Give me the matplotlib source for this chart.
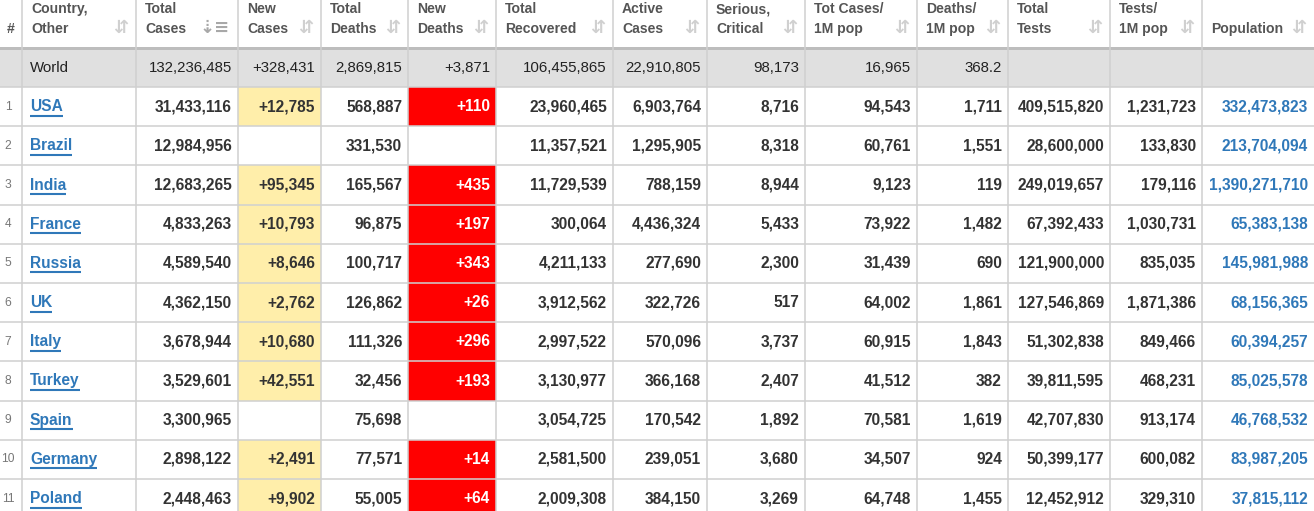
import os
import matplotlib
matplotlib.use("Agg")
import matplotlib.pyplot as plt
import matplotlib.font_manager as fm

headers = [
    "#", "Country,\nOther", "Total\nCases", "New\nCases", "Total\nDeaths", "New\nDeaths",
    "Total\nRecovered", "Active\nCases", "Serious,\nCritical", "Tot Cases/\n1M pop",
    "Deaths/\n1M pop", "Total\nTests", "Tests/\n1M pop", "Population",
]

world = ["", "World", "132,236,485", "+328,431", "2,869,815", "+3,871", "106,455,865",
         "22,910,805", "98,173", "16,965", "368.2", "", "", ""]

ranks = ["1", "2", "3", "4", "5", "6", "7", "8", "9", "10", "11"]
countries = ["USA", "Brazil", "India", "France", "Russia", "UK", "Italy", "Turkey",
             "Spain", "Germany", "Poland"]
total_cases = ["31,433,116", "12,984,956", "12,683,265", "4,833,263", "4,589,540",
               "4,362,150", "3,678,944", "3,529,601", "3,300,965", "2,898,122", "2,448,463"]
new_cases = ["+12,785", "", "+95,345", "+10,793", "+8,646", "+2,762", "+10,680",
             "+42,551", "", "+2,491", "+9,902"]
total_deaths = ["568,887", "331,530", "165,567", "96,875", "100,717", "126,862",
                "111,326", "32,456", "75,698", "77,571", "55,005"]
new_deaths = ["+110", "", "+435", "+197", "+343", "+26", "+296", "+193", "", "+14", "+64"]
total_recovered = ["23,960,465", "11,357,521", "11,729,539", "300,064", "4,211,133",
                   "3,912,562", "2,997,522", "3,130,977", "3,054,725", "2,581,500", "2,009,308"]
active_cases = ["6,903,764", "1,295,905", "788,159", "4,436,324", "277,690", "322,726",
                "570,096", "366,168", "170,542", "239,051", "384,150"]
serious = ["8,716", "8,318", "8,944", "5,433", "2,300", "517", "3,737", "2,407",
           "1,892", "3,680", "3,269"]
cases_per_m = ["94,543", "60,761", "9,123", "73,922", "31,439", "64,002", "60,915",
               "41,512", "70,581", "34,507", "64,748"]
deaths_per_m = ["1,711", "1,551", "119", "1,482", "690", "1,861", "1,843", "382",
                "1,619", "924", "1,455"]
total_tests = ["409,515,820", "28,600,000", "249,019,657", "67,392,433", "121,900,000",
               "127,546,869", "51,302,838", "39,811,595", "42,707,830", "50,399,177",
               "12,452,912"]
tests_per_m = ["1,231,723", "133,830", "179,116", "1,030,731", "835,035", "1,871,386",
               "849,466", "468,231", "913,174", "600,082", "329,310"]
population = ["332,473,823", "213,704,094", "1,390,271,710", "65,383,138", "145,981,988",
              "68,156,365", "60,394,257", "85,025,578", "46,768,532", "83,987,205",
              "37,815,112"]

rows = list(zip(ranks, countries, total_cases, new_cases, total_deaths, new_deaths,
                total_recovered, active_cases, serious, cases_per_m, deaths_per_m,
                total_tests, tests_per_m, population))

# ---- layout (pixels) ----
W, H = 1314, 511
col_edges = [0, 22, 136, 238, 321, 408, 496, 613, 707, 805, 917, 1008, 1110, 1202, 1314]
header_bottom = 47
world_top, world_bottom = 50, 87
row_h = 39.2

PX = 72 / 100  # px -> pt at dpi 100
GRID = "#d0d0d0"
TXT = "#333333"
HDR = "#555555"
LINK = "#2f78b9"
YELLOW = "#ffeeaa"
RED = "#ff0000"


def font(filename, weight, size_px):
    # pick the exact file so the narrow variant never sneaks in
    for f in fm.fontManager.ttflist:
        if os.path.basename(f.fname) == filename:
            return fm.FontProperties(fname=f.fname, size=size_px * PX)
    return fm.FontProperties(family="Liberation Sans", weight=weight,
                             stretch="normal", size=size_px * PX)


f_hdr = font("LiberationSans-Bold.ttf", "bold", 14)
f_bold = font("LiberationSans-Bold.ttf", "bold", 15.5)
f_reg = font("LiberationSans-Regular.ttf", "normal", 15)
f_rank = font("LiberationSans-Regular.ttf", "normal", 12)

fig = plt.figure(figsize=(W / 100, H / 100), dpi=100)
ax = fig.add_axes([0, 0, 1, 1])
ax.set_xlim(0, W)
ax.set_ylim(H, 0)
ax.axis("off")
fig.patch.set_facecolor("white")


def cell_rect(c, y0, y1, color):
    ax.add_patch(plt.Rectangle((col_edges[c], y0), col_edges[c + 1] - col_edges[c],
                               y1 - y0, facecolor=color, edgecolor="none", zorder=1))


# header
for c, h in enumerate(headers):
    x0, x1 = col_edges[c], col_edges[c + 1]
    lines = h.split("\n")
    if c == 0:
        ax.text(11, 33, "#", ha="center", va="baseline", fontproperties=f_hdr,
                color=HDR, zorder=3)
        continue
    if len(lines) == 2:
        ax.text(x0 + 9, 13, lines[0], ha="left", va="baseline", fontproperties=f_hdr,
                color=HDR, zorder=3)
    ax.text(x0 + 9, 33, lines[-1], ha="left", va="baseline", fontproperties=f_hdr,
            color=HDR, zorder=3)
    icon = "⇣≡" if c == 2 else "⇵"
    icol = "#a8a8a8" if c == 2 else "#d0d0d0"
    ax.text(x1 - 8, 28, icon, ha="right", va="center", fontsize=18 * PX,
            color=icol, family="DejaVu Sans", fontweight="bold", zorder=3)

# header bottom rule
ax.add_patch(plt.Rectangle((0, header_bottom), W, 3, facecolor="#bdbdbd",
                           edgecolor="none", zorder=2))

# world row
ax.add_patch(plt.Rectangle((0, world_top), W, world_bottom - world_top,
                           facecolor="#e0e0e0", edgecolor="none", zorder=1))
wy = (world_top + world_bottom) / 2
for c, v in enumerate(world):
    if not v:
        continue
    x0, x1 = col_edges[c], col_edges[c + 1]
    if c == 1:
        ax.text(x0 + 8, wy, v, ha="left", va="center", fontproperties=f_reg,
                color="#222222", zorder=3)
    else:
        ax.text(x1 - 6, wy, v, ha="right", va="center", fontproperties=f_reg,
                color="#222222", zorder=3)

# country rows
fig.canvas.draw()
renderer = fig.canvas.get_renderer()
inv = ax.transData.inverted()

for r, row in enumerate(rows):
    y0 = world_bottom + r * row_h
    y1 = y0 + row_h
    yc = (y0 + y1) / 2
    if row[3]:
        cell_rect(3, y0, y1, YELLOW)
    if row[5]:
        cell_rect(5, y0, y1, RED)
    ax.plot([0, W], [y1, y1], color=GRID, lw=1.1, zorder=2)
    for c, v in enumerate(row):
        if not v:
            continue
        x0, x1 = col_edges[c], col_edges[c + 1]
        if c == 0:
            ax.text((x0 + x1) / 2 - 3, yc, v, ha="center", va="center",
                    fontproperties=f_rank, color="#777777", zorder=3)
        elif c == 1:
            t = ax.text(x0 + 8, yc, v, ha="left", va="center", fontproperties=f_bold,
                        color=LINK, zorder=3)
            bb = t.get_window_extent(renderer)
            (ux0, _), (ux1, _) = inv.transform([(bb.x0, 0), (bb.x1, 0)])
            ax.plot([ux0, ux1], [yc + 9, yc + 9], color=LINK, lw=1.5, zorder=3,
                    solid_capstyle="butt")
        else:
            color = "white" if c == 5 else (LINK if c == 13 else TXT)
            ax.text(x1 - 6, yc, v, ha="right", va="center", fontproperties=f_bold,
                    color=color, zorder=3)

# vertical grid lines
for x in col_edges[1:-1]:
    ax.plot([x, x], [0, H], color=GRID, lw=1.1, zorder=2)
ax.plot([0, W], [world_bottom, world_bottom], color=GRID, lw=1.1, zorder=2)

fig.savefig("out.png", dpi=100, facecolor="white")
